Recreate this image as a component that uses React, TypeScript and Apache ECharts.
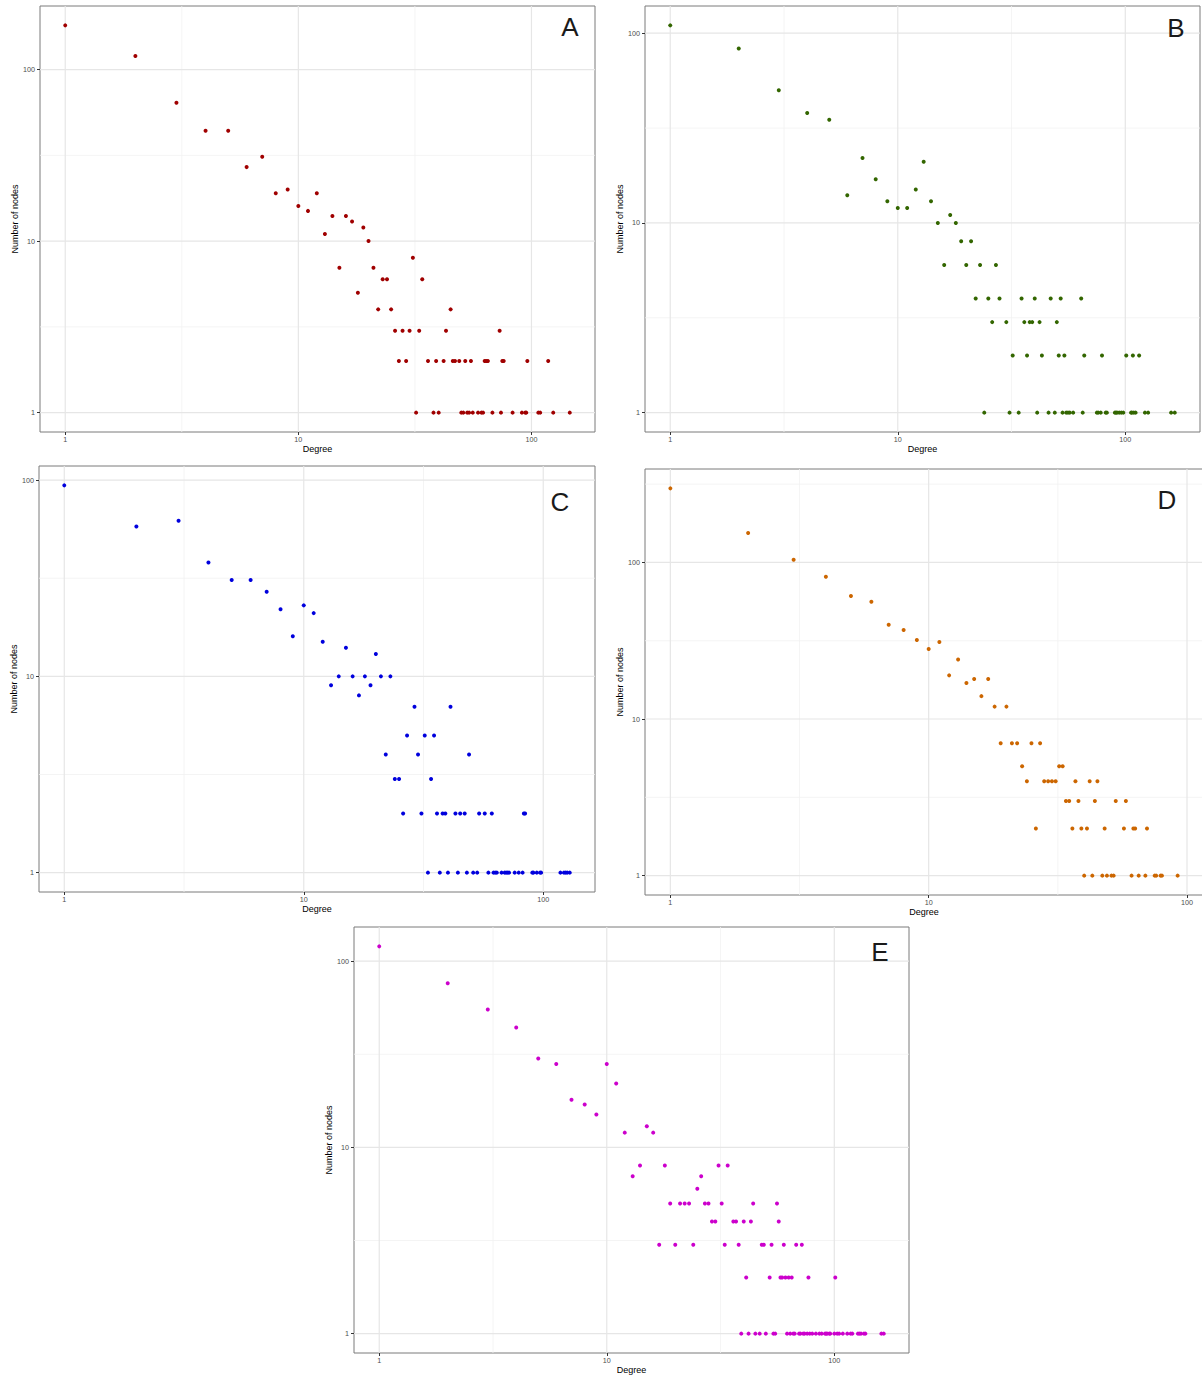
import React, { useEffect, useRef } from "react";
import * as echarts from "echarts";

const FONT = "'Liberation Sans', Arial, Helvetica, sans-serif";

// [degree, number of nodes]
const pointsA: [number, number][] = [
  [1, 181], [2, 120], [3, 64], [4, 44], [5, 44], [6, 27], [7, 31], [8, 19], [9, 20], [10, 16],
  [11, 15], [12, 19], [13, 11], [14, 14], [15, 7], [16, 14], [17, 13], [18, 5], [19, 12], [20, 10],
  [21, 7], [22, 4], [23, 6], [24, 6], [25, 4], [26, 3], [27, 2], [28, 3], [29, 2], [30, 3],
  [31, 8], [32, 1], [33, 3], [34, 6], [36, 2], [38, 1], [39, 2], [40, 1], [42, 2], [43, 3],
  [45, 4], [46, 2], [47, 2], [49, 2], [50, 1], [51, 1], [52, 2], [53, 1], [54, 1], [55, 2],
  [56, 1], [59, 1], [61, 1], [62, 1], [63, 2], [64, 2], [65, 2], [68, 1], [73, 3], [74, 1],
  [75, 2], [76, 2], [83, 1], [91, 1], [94, 1], [95, 1], [96, 2], [107, 1], [109, 1], [118, 2],
  [124, 1], [146, 1],
];

const pointsB: [number, number][] = [
  [1, 110], [2, 83], [3, 50], [4, 38], [5, 35], [6, 14], [7, 22], [8, 17], [9, 13], [10, 12],
  [11, 12], [12, 15], [13, 21], [14, 13], [15, 10], [16, 6], [17, 11], [18, 10], [19, 8], [20, 6],
  [21, 8], [22, 4], [23, 6], [24, 1], [25, 4], [26, 3], [27, 6], [28, 4], [30, 3], [31, 1],
  [32, 2], [34, 1], [35, 4], [36, 3], [37, 2], [38, 3], [39, 3], [40, 4], [41, 1], [42, 3],
  [43, 2], [46, 1], [47, 4], [49, 1], [50, 3], [51, 2], [52, 4], [53, 1], [54, 2], [55, 1],
  [56, 1], [57, 1], [59, 1], [64, 4], [65, 1], [66, 2], [75, 1], [76, 1], [78, 1], [79, 2],
  [82, 1], [83, 1], [90, 1], [91, 1], [92, 1], [94, 1], [96, 1], [98, 1], [101, 2], [106, 1],
  [107, 1], [108, 2], [109, 1], [111, 1], [115, 2], [122, 1], [126, 1], [159, 1], [165, 1],
];

const pointsC: [number, number][] = [
  [1, 94], [2, 58], [3, 62], [4, 38], [5, 31], [6, 31], [7, 27], [8, 22], [9, 16], [10, 23],
  [11, 21], [12, 15], [13, 9], [14, 10], [15, 14], [16, 10], [17, 8], [18, 10], [19, 9], [20, 13],
  [21, 10], [22, 4], [23, 10], [24, 3], [25, 3], [26, 2], [27, 5], [29, 7], [30, 4], [31, 2],
  [32, 5], [33, 1], [34, 3], [35, 5], [36, 2], [37, 1], [38, 2], [39, 2], [40, 1], [41, 7],
  [43, 2], [44, 1], [45, 2], [47, 2], [48, 1], [49, 4], [51, 1], [53, 1], [54, 2], [57, 2],
  [59, 1], [61, 2], [62, 1], [63, 1], [64, 1], [67, 1], [69, 1], [70, 1], [71, 1], [72, 1],
  [76, 1], [79, 1], [82, 1], [83, 2], [84, 2], [90, 1], [91, 1], [94, 1], [97, 1], [98, 1],
  [118, 1], [122, 1], [124, 1], [126, 1], [129, 1],
];

const pointsD: [number, number][] = [
  [1, 297], [2, 154], [3, 104], [4, 81], [5, 61], [6, 56], [7, 40], [8, 37], [9, 32], [10, 28],
  [11, 31], [12, 19], [13, 24], [14, 17], [15, 18], [16, 14], [17, 18], [18, 12], [19, 7], [20, 12],
  [21, 7], [22, 7], [23, 5], [24, 4], [25, 7], [26, 2], [27, 7], [28, 4], [29, 4], [30, 4],
  [31, 4], [32, 5], [33, 5], [34, 3], [35, 3], [36, 2], [37, 4], [38, 3], [39, 2], [40, 1],
  [41, 2], [42, 4], [43, 1], [44, 3], [45, 4], [47, 1], [48, 2], [49, 1], [51, 1], [52, 1],
  [53, 3], [57, 2], [58, 3], [61, 1], [62, 2], [63, 2], [65, 1], [69, 1], [70, 2], [75, 1],
  [76, 1], [79, 1], [80, 1], [92, 1],
];

const pointsE: [number, number][] = [
  [1, 120], [2, 76], [3, 55], [4, 44], [5, 30], [6, 28], [7, 18], [8, 17], [9, 15], [10, 28],
  [11, 22], [12, 12], [13, 7], [14, 8], [15, 13], [16, 12], [17, 3], [18, 8], [19, 5], [20, 3],
  [21, 5], [22, 5], [23, 5], [24, 3], [25, 6], [26, 7], [27, 5], [28, 5], [29, 4], [30, 4],
  [31, 8], [32, 5], [33, 3], [34, 8], [36, 4], [37, 4], [38, 3], [39, 1], [40, 4], [41, 2],
  [42, 1], [43, 4], [44, 5], [45, 1], [47, 1], [48, 3], [49, 3], [50, 1], [52, 2], [53, 3],
  [54, 1], [55, 1], [56, 5], [57, 4], [58, 2], [59, 2], [60, 3], [61, 2], [62, 1], [63, 2],
  [64, 1], [65, 2], [66, 1], [67, 1], [68, 3], [70, 1], [71, 1], [72, 3], [73, 1], [74, 1],
  [76, 1], [77, 2], [78, 1], [80, 1], [83, 1], [86, 1], [88, 1], [91, 1], [92, 1], [93, 1],
  [95, 1], [96, 1], [100, 1], [101, 2], [103, 1], [105, 1], [109, 1], [114, 1], [118, 1], [120, 1],
  [127, 1], [129, 1], [131, 1], [135, 1], [137, 1], [161, 1], [165, 1],
];

const TICK_VALUES = [1, 10, 100];
const MAJOR_GRID = [1, 10, 100];
const MINOR_GRID = [3.1623, 31.623, 316.23];
const X_TITLE = "Degree";
const Y_TITLE = "Number of nodes";

const PANELS = [
  { tag: "A", points: pointsA, color: "#A00000", left: 40, top: 6, width: 555, height: 426, tagX: 570, tagY: 27 },
  { tag: "B", points: pointsB, color: "#336600", left: 645, top: 6, width: 555, height: 426, tagX: 1176, tagY: 28 },
  { tag: "C", points: pointsC, color: "#0000DD", left: 39, top: 466, width: 556, height: 426, tagX: 560, tagY: 502 },
  { tag: "D", points: pointsD, color: "#CC6600", left: 645, top: 469, width: 558, height: 426, tagX: 1167, tagY: 500 },
  { tag: "E", points: pointsE, color: "#CC00CC", left: 354, top: 927, width: 555, height: 426, tagX: 880, tagY: 952 },
];

function logExtent(values: number[]): [number, number] {
  const logs = values.map((v) => Math.log10(v));
  const lo = Math.min(...logs);
  const hi = Math.max(...logs);
  const pad = (hi - lo) * 0.05;
  return [lo - pad, hi + pad];
}

const fmt = (v: number) => String(Math.round(Math.pow(10, v)));

export default function App() {
  const ref = useRef<HTMLDivElement>(null);

  useEffect(() => {
    if (!ref.current) return;
    const chart = echarts.init(ref.current, undefined, { renderer: "svg" });

    const grids: any[] = [];
    const xAxes: any[] = [];
    const yAxes: any[] = [];
    const series: any[] = [];
    const graphics: any[] = [];

    PANELS.forEach((p, i) => {
      const xExt = logExtent(p.points.map((d) => d[0]));
      const yExt = logExtent(p.points.map((d) => d[1]));
      grids.push({
        left: p.left,
        top: p.top,
        width: p.width,
        height: p.height,
        show: true,
        borderColor: "#7a7a7a",
        borderWidth: 1,
        backgroundColor: "#ffffff",
        containLabel: false,
        outerBoundsMode: "none",
      });
      const tickLogs = TICK_VALUES.map((v) => Math.log10(v));
      const common = {
        type: "value",
        gridIndex: i,
        axisLine: { show: false, onZero: false },
        axisTick: { show: true, length: 3, customValues: tickLogs, lineStyle: { color: "#333333", width: 1 } },
        splitLine: { show: false },
        nameLocation: "middle",
        nameTextStyle: { fontSize: 9, color: "#000000", fontFamily: FONT },
      };
      xAxes.push({
        ...common,
        min: xExt[0],
        max: xExt[1],
        name: X_TITLE,
        nameGap: 12,
        axisLabel: { customValues: tickLogs, formatter: fmt, fontSize: 7.2, color: "#4d4d4d", margin: 4, fontFamily: FONT },
      });
      yAxes.push({
        ...common,
        min: yExt[0],
        max: yExt[1],
        name: Y_TITLE,
        nameGap: 19,
        axisLabel: { customValues: tickLogs, formatter: fmt, fontSize: 7.2, color: "#4d4d4d", margin: 5, fontFamily: FONT },
      });

      const gridData: number[][] = [];
      const addLines = (vals: number[], major: number) => {
        vals.forEach((v) => {
          const lv = Math.log10(v);
          if (lv > xExt[0] && lv < xExt[1]) gridData.push([lv, yExt[0], 0, major]);
          if (lv > yExt[0] && lv < yExt[1]) gridData.push([xExt[0], lv, 1, major]);
        });
      };
      addLines(MINOR_GRID, 0);
      addLines(MAJOR_GRID, 1);

      series.push({
        type: "custom",
        xAxisIndex: i,
        yAxisIndex: i,
        z: 1,
        silent: true,
        data: gridData,
        renderItem: (params: any, api: any) => {
          const cs = params.coordSys;
          const pt = api.coord([api.value(0), api.value(1)]);
          const vertical = api.value(2) === 0;
          const major = api.value(3) === 1;
          const shape = vertical
            ? { x1: pt[0], y1: cs.y, x2: pt[0], y2: cs.y + cs.height }
            : { x1: cs.x, y1: pt[1], x2: cs.x + cs.width, y2: pt[1] };
          return {
            type: "line",
            shape,
            silent: true,
            style: { stroke: major ? "#e6e6e6" : "#f1f1f1", lineWidth: major ? 1.2 : 0.8 },
          };
        },
      });

      series.push({
        type: "scatter",
        xAxisIndex: i,
        yAxisIndex: i,
        z: 3,
        symbol: "circle",
        symbolSize: 4,
        itemStyle: { color: p.color, opacity: 1 },
        data: p.points.map((d) => [Math.log10(d[0]), Math.log10(d[1])]),
      });

      graphics.push({
        type: "text",
        x: p.tagX,
        y: p.tagY,
        z: 10,
        style: {
          text: p.tag,
          fontSize: 26,
          fontFamily: FONT,
          fill: "#1a1a1a",
          align: "center",
          verticalAlign: "middle",
          textAlign: "center",
          textVerticalAlign: "middle",
        },
      });
    });

    chart.setOption({
      animation: false,
      backgroundColor: "#ffffff",
      grid: grids,
      xAxis: xAxes,
      yAxis: yAxes,
      series,
      graphic: graphics,
    });

    return () => {
      chart.dispose();
    };
  }, []);

  return (
    <div
      ref={ref}
      style={{ position: "absolute", left: 0, top: 0, width: 1202, height: 1378 }}
    />
  );
}
